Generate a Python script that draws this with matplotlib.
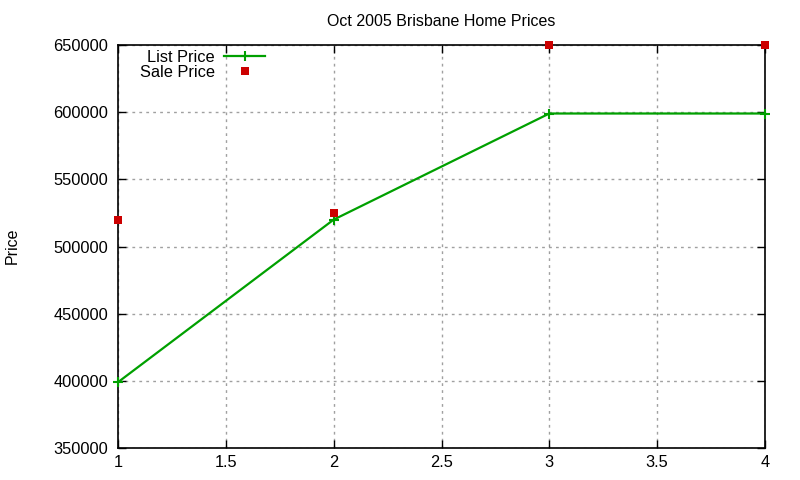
import matplotlib
matplotlib.use("Agg")
import matplotlib.pyplot as plt
from matplotlib.lines import Line2D

plt.rcParams['font.family'] = ['Liberation Sans', 'DejaVu Sans']

x = [1, 2, 3, 4]
list_price = [399000, 520000, 599000, 599000]
sale_price = [520000, 525000, 650000, 650000]
xticks = [1, 1.5, 2, 2.5, 3, 3.5, 4]
yticks = [350000, 400000, 450000, 500000, 550000, 600000, 650000]

FS = 11.8
fig = plt.figure(figsize=(8, 4.8), dpi=100)
ax = fig.add_axes([118/800, 1 - 448/480, (765-118)/800, (448-45)/480])

ax.plot(x, list_price, color='#00a000', lw=1.6, marker='+', ms=7, mew=1.5,
        clip_on=False, zorder=3)
ax.plot(x, sale_price, ls='none', color='#cc0000', marker='s', ms=6,
        mew=0, clip_on=False, zorder=4)

ax.set_xlim(1, 4)
ax.set_ylim(350000, 650000)
ax.set_xticks(xticks)
ax.set_xticklabels(['1', '1.5', '2', '2.5', '3', '3.5', '4'])
ax.set_yticks(yticks)
ax.set_yticklabels([str(v) for v in yticks])
ax.grid(True, color='#a0a0a0', ls=(0, (2, 3)), lw=1)
ax.tick_params(direction='in', length=6, width=1, top=True, right=True,
               labelsize=FS, colors='black')
ax.tick_params(axis='x', pad=5)
ax.tick_params(axis='y', pad=7)
for s in ax.spines.values():
    s.set_linewidth(1.2)

ax.set_title('Oct 2005 Brisbane Home Prices', fontsize=11.5, pad=14)
fig.text(12/800, 1 - 246/480, 'Price', rotation=90, ha='center', va='center',
         fontsize=11.5)

handles = [Line2D([], [], color='#00a000', lw=1.6, marker='+', ms=7, mew=1.5),
           Line2D([], [], ls='none', color='#cc0000', marker='s', ms=6, mew=0)]
leg = ax.legend(handles, ['List Price', 'Sale Price'], loc='upper left',
                bbox_to_anchor=(0.024, 1.005), frameon=False, markerfirst=False,
                fontsize=FS, handlelength=2.5, handletextpad=0.55,
                labelspacing=0.0, borderaxespad=0)
leg._legend_box.align = 'right'
for t in leg.get_texts():
    t.set_ha('right')

fig.savefig('out.png', dpi=100)
